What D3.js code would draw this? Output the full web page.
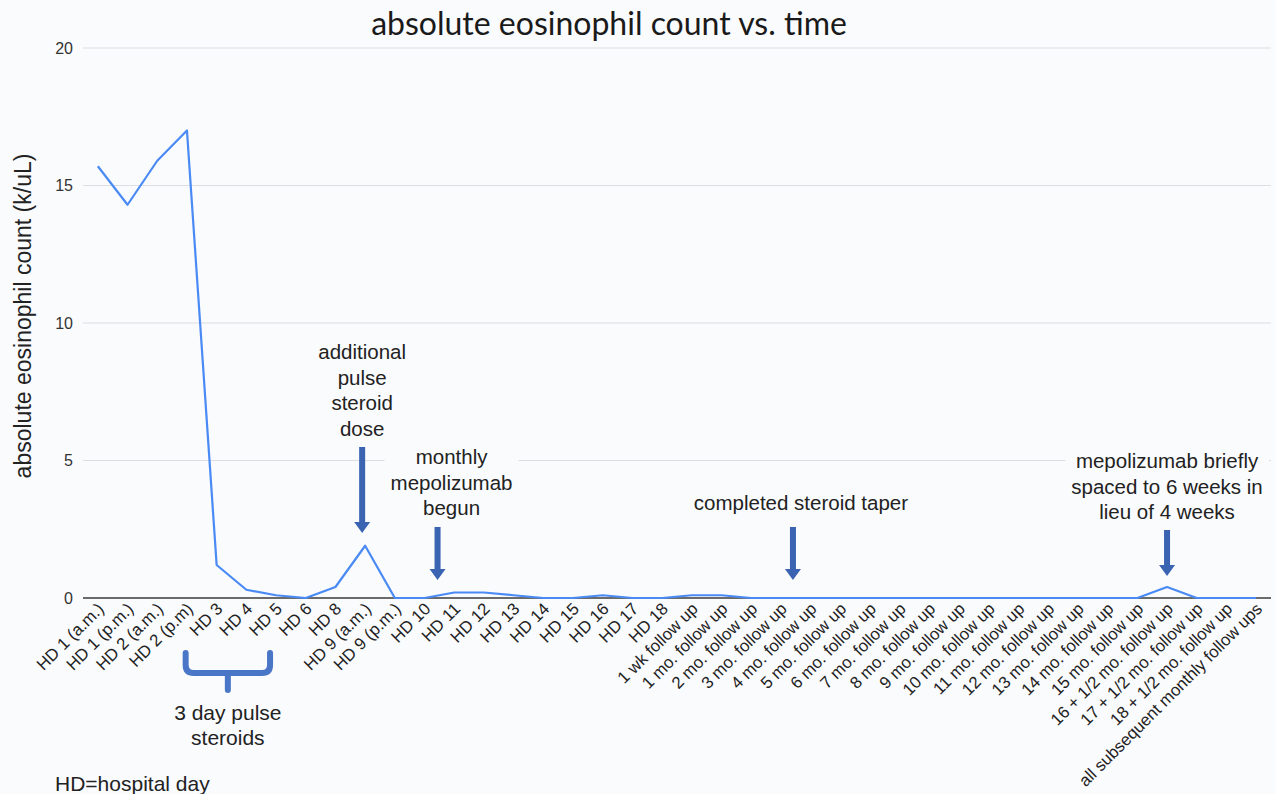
<!DOCTYPE html>
<html>
<head>
<meta charset="utf-8">
<script src="https://cdn.jsdelivr.net/npm/d3@7"></script>
<style>
  html, body { margin: 0; padding: 0; background: #fafbfd; }
  svg { display: block; }
</style>
</head>
<body>
<div id="chart"></div>
<script>
// data
const categories = [
  "HD 1 (a.m.)", "HD 1 (p.m.)", "HD 2 (a.m.)", "HD 2 (p.m)", "HD 3", "HD 4", "HD 5", "HD 6", "HD 8",
  "HD 9 (a.m.)", "HD 9 (p.m.)", "HD 10", "HD 11", "HD 12", "HD 13", "HD 14", "HD 15", "HD 16",
  "HD 17", "HD 18", "1 wk follow up", "1 mo. follow up", "2 mo. follow up", "3 mo. follow up",
  "4 mo. follow up", "5 mo. follow up", "6 mo. follow up", "7 mo. follow up", "8 mo. follow up",
  "9 mo. follow up", "10 mo. follow up", "11 mo. follow up", "12 mo. follow up", "13 mo. follow up",
  "14 mo. follow up", "15 mo. follow up", "16 + 1/2 mo. follow up", "17 + 1/2 mo. follow up",
  "18 + 1/2 mo. follow up", "all subsequent monthly follow ups"
];
const eosinophils = [
  15.7, 14.3, 15.9, 17.0, 1.2, 0.3, 0.1, 0, 0.4,
  1.9, 0, 0, 0.2, 0.2, 0.1, 0, 0, 0.1,
  0, 0, 0.1, 0.1, 0, 0,
  0, 0, 0, 0, 0,
  0, 0, 0, 0, 0,
  0, 0, 0.4, 0,
  0, 0
];
const yTicks = [0, 5, 10, 15, 20];

// annotations: text lines, category they point at
const notes = [
  { lines: ["additional", "pulse", "steroid", "dose"], cat: "HD 9 (a.m.)", dx: -3, top: 352, a1: 447, a2: 533, box: false },
  { lines: ["monthly", "mepolizumab", "begun"], cat: "HD 10", dx: 13, top: 457, a1: 527, a2: 580, box: true, tdx: 14 },
  { lines: ["completed steroid taper"], cat: "3 mo. follow up", dx: 12, top: 503, a1: 527, a2: 580, box: false, tdx: 8 },
  { lines: ["mepolizumab briefly", "spaced to 6 weeks in", "lieu of 4 weeks"], cat: "16 + 1/2 mo. follow up", dx: 0, top: 461, a1: 530, a2: 576, box: true }
];

const width = 1275, height = 794;
const bg = "#fafbfd";
const arrowColor = "#3a63b2";

const svg = d3.select("#chart").append("svg")
  .attr("width", width)
  .attr("height", height)
  .style("background", bg);

const x = d3.scalePoint()
  .domain(categories)
  .range([83, 1271])
  .padding(0.5);

const y = d3.scaleLinear()
  .domain([0, 20])
  .range([598, 48]);

// gridlines
svg.append("g")
  .selectAll("line")
  .data(yTicks.filter(d => d > 0))
  .join("line")
  .attr("x1", 83)
  .attr("x2", 1271)
  .attr("y1", d => y(d))
  .attr("y2", d => y(d))
  .attr("stroke", "#dcdee2")
  .attr("stroke-width", 1.2);

// y tick labels
svg.append("g")
  .selectAll("text")
  .data(yTicks)
  .join("text")
  .attr("x", 73)
  .attr("y", d => y(d) + 5.5)
  .attr("text-anchor", "end")
  .attr("font-family", "Liberation Sans, Arial, sans-serif")
  .attr("font-size", "16px")
  .attr("fill", "#333")
  .text(d => d);

// zero axis
svg.append("line")
  .attr("x1", 83)
  .attr("x2", 1271)
  .attr("y1", y(0))
  .attr("y2", y(0))
  .attr("stroke", "#6b6b6b")
  .attr("stroke-width", 2);

// x labels
svg.append("g")
  .selectAll("text")
  .data(categories)
  .join("text")
  .attr("transform", d => `translate(${x(d) + 7},${y(0) + 12}) rotate(-45)`)
  .attr("text-anchor", "end")
  .attr("font-family", "Liberation Sans, Arial, sans-serif")
  .attr("font-size", "16.8px")
  .attr("fill", "#222")
  .text(d => d);

// data line
const line = d3.line()
  .x((d, i) => x(categories[i]))
  .y(d => y(d));

svg.append("path")
  .datum(eosinophils)
  .attr("fill", "none")
  .attr("stroke", "#4a8af4")
  .attr("stroke-width", 2.2)
  .attr("stroke-linejoin", "round")
  .attr("d", line);

// annotations
const fontAnn = "Liberation Sans, Arial, sans-serif";
notes.forEach(n => {
  const cx = x(n.cat) + n.dx;
  const tx = cx + (n.tdx || 0);
  const g = svg.append("g");
  const t = g.append("text")
    .attr("text-anchor", "middle")
    .attr("font-family", fontAnn)
    .attr("font-size", "20.5px")
    .attr("fill", "#222");
  n.lines.forEach((s, i) => {
    t.append("tspan")
      .attr("x", tx)
      .attr("y", n.top + i * 25.5 + 7)
      .text(s);
  });
  if (n.box) {
    const bb = t.node().getBBox();
    g.insert("rect", "text")
      .attr("x", bb.x - 6)
      .attr("y", bb.y - 4)
      .attr("width", bb.width + 12)
      .attr("height", bb.height + 8)
      .attr("fill", bg);
  }
  // arrow
  const headLen = 11, headW = 8, shaftW = 3;
  g.append("path")
    .attr("d", `M${cx - shaftW},${n.a1} L${cx + shaftW},${n.a1} L${cx + shaftW},${n.a2 - headLen}
      L${cx + headW},${n.a2 - headLen} L${cx},${n.a2} L${cx - headW},${n.a2 - headLen}
      L${cx - shaftW},${n.a2 - headLen} Z`)
    .attr("fill", arrowColor);
});

// brace under HD 3 .. HD 5
const bx1 = x("HD 3") - 31, bx2 = x("HD 5") - 6, bmid = (bx1 + bx2) / 2;
const bTop = 653, bY = 673, bStem = 690, r = 8;
svg.append("path")
  .attr("d", `M${bx1},${bTop} L${bx1},${bY - r} Q${bx1},${bY} ${bx1 + r},${bY}
    L${bx2 - r},${bY} Q${bx2},${bY} ${bx2},${bY - r} L${bx2},${bTop}
    M${bmid},${bY} L${bmid},${bStem}`)
  .attr("fill", "none")
  .attr("stroke", "#4a76c8")
  .attr("stroke-width", 6)
  .attr("stroke-linecap", "round")
  .attr("stroke-linejoin", "round");

svg.append("text")
  .attr("text-anchor", "middle")
  .attr("font-family", fontAnn)
  .attr("font-size", "21px")
  .attr("fill", "#222")
  .selectAll("tspan")
  .data(["3 day pulse", "steroids"])
  .join("tspan")
  .attr("x", bmid)
  .attr("y", (d, i) => 720 + i * 25)
  .text(d => d);

svg.append("text")
  .attr("x", 55)
  .attr("y", 791)
  .attr("font-family", fontAnn)
  .attr("font-size", "21px")
  .attr("fill", "#222")
  .text("HD=hospital day");

// title
svg.append("text")
  .attr("x", 609)
  .attr("y", 35)
  .attr("text-anchor", "middle")
  .attr("font-family", "Lato, Carlito, Calibri, sans-serif")
  .attr("font-size", "32px")
  .attr("fill", "#1a1a1a")
  .text("absolute eosinophil count vs. time");

// y axis label
svg.append("text")
  .attr("transform", `translate(31,${316}) rotate(-90)`)
  .attr("text-anchor", "middle")
  .attr("font-family", fontAnn)
  .attr("font-size", "23px")
  .attr("fill", "#222")
  .text("absolute eosinophil count (k/uL)");
</script>
</body>
</html>
